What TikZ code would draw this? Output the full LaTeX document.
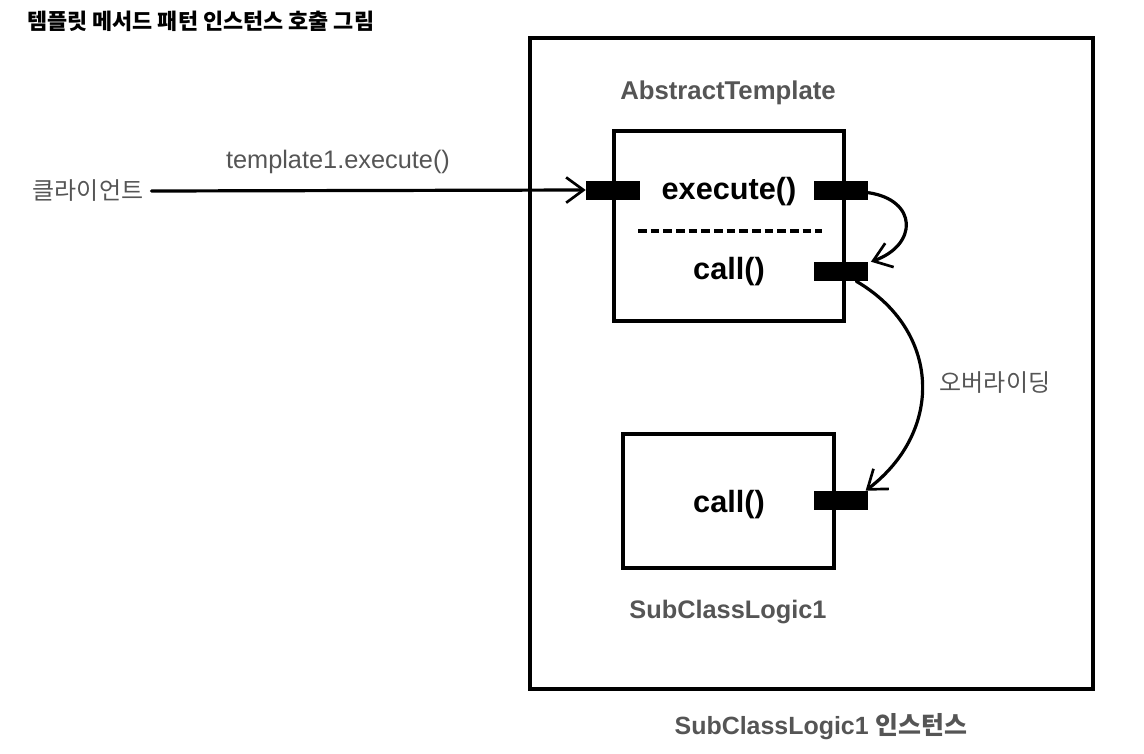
\documentclass[tikz,border=0pt]{standalone}
\usepackage{fontspec}
\setmainfont{Liberation Sans}
\newfontfamily\kr{Noto Sans CJK KR}
\usetikzlibrary{arrows.meta}
\definecolor{labelgray}{HTML}{555555}
\begin{document}
\begin{tikzpicture}[x=0.75pt,y=-0.75pt,
  box/.style={draw, line width=2.6pt, inner sep=0pt},
  outerbox/.style={draw, line width=3.4pt, inner sep=0pt},
  port/.style={fill=black, draw=none, minimum width=40.5pt, minimum height=14.25pt, inner sep=0pt},
  glabel/.style={text=labelgray, font=\bfseries\fontsize{19.3}{22}\selectfont, inner sep=0pt},
  method/.style={text=black, font=\fontsize{23}{25}\selectfont\bfseries, inner sep=0pt},
  plain/.style={text=labelgray, inner sep=0pt},
  hand/.style={line width=2.4pt, line cap=round, line join=round, draw=black},
  barb/.style={-{Straight Barb[length=13pt,width=19pt,line width=2pt]}}
]
\useasboundingbox (0,0) rectangle (1144,753);
% title
\node[anchor=west, inner sep=0pt, font=\kr\bfseries\fontsize{16.4}{19}\selectfont] (title) at (27,21) {템플릿 메서드 패턴 인스턴스 호출 그림};
% outer instance box
\node[outerbox, minimum width=422.25pt, minimum height=488.25pt] (inst) at (811.5,363.5) {};
\node[glabel, font=\bfseries\fontsize{18.7}{22}\selectfont] (instlbl) at (821,727) {SubClassLogic1 {\kr 인스턴스}};
% abstract template
\node[glabel] (atlbl) at (728,93) {AbstractTemplate};
\node[box, minimum width=172.5pt, minimum height=142.5pt] (at) at (729,226) {};
\node[method] (exec) at (729,192) {execute()};
\node[method] (call1) at (729,272) {call()};
\draw[line width=2.6pt, dash pattern=on 6.5pt off 3pt] (638,231) coordinate (dl) -- (822,231) coordinate (dr);
\node[port] (p1) at (613,190) {};
\node[port] (p2) at (841,190) {};
\node[port] (p3) at (841,271.5) {};
% subclass
\node[box, minimum width=158.25pt, minimum height=100.5pt] (sub) at (728.5,501) {};
\node[method] (call2) at (729,505) {call()};
\node[port] (p4) at (841,500.5) {};
\node[glabel, font=\bfseries\fontsize{19}{22}\selectfont] (sublbl) at (728,612) {SubClassLogic1};
% client
\node[plain, font=\kr\fontsize{18}{20}\selectfont] (client) at (88,191) {클라이언트};
\node[plain, font=\fontsize{19}{21}\selectfont] (callbl) at (338,162) {template1.execute()};
\node[plain, font=\kr\fontsize{18}{20}\selectfont] (ovr) at (995,383) {오버라이딩};
% connectors
\draw[hand, barb] ([xshift=6pt]client.east) -- (p1.west);
\draw[hand, barb] ([yshift=-2pt]p2.east) .. controls (918,200) and (918,245) .. ([xshift=2pt]p3.north east);
\draw[hand, barb] ([xshift=-9pt]p3.south east) .. controls (940,330) and (945,430) .. ([xshift=-2pt]p4.north east);
\end{tikzpicture}
\end{document}
